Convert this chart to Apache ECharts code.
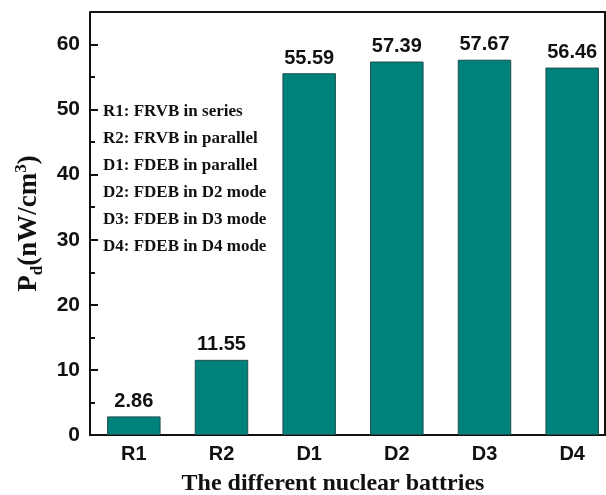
<!DOCTYPE html>
<html>
<head>
<meta charset="utf-8">
<script src="https://cdn.jsdelivr.net/npm/echarts@6/dist/echarts.min.js"></script>
<style>
  html, body { margin: 0; padding: 0; background: #ffffff; }
  #chart { width: 606px; height: 495px; }
</style>
</head>
<body>
<div id="chart"></div>
<script>
// Power density of the different nuclear battery configurations
const categories = ['R1', 'R2', 'D1', 'D2', 'D3', 'D4'];
const powerDensity = [2.86, 11.55, 55.59, 57.39, 57.67, 56.46];
const yTicks = [0, 10, 20, 30, 40, 50, 60];
const notes = [
  'R1: FRVB in series',
  'R2: FRVB in parallel',
  'D1: FDEB in parallel',
  'D2: FDEB in D2 mode',
  'D3: FDEB in D3 mode',
  'D4: FDEB in D4 mode'
];

const chart = echarts.init(document.getElementById('chart'), null, { renderer: 'canvas' });

const serifBold = { fontFamily: 'Liberation Serif', fontWeight: 'bold', color: '#111' };
const sansBold = { fontFamily: 'Liberation Sans', fontWeight: 'bold', color: '#111' };

chart.setOption({
  backgroundColor: '#ffffff',
  animation: false,
  grid: {
    left: 90, top: 12, width: 526, height: 423,
    containLabel: false, outerBoundsMode: 'none', show: false
  },
  graphic: notes.map((t, i) => ({
    type: 'text',
    left: 103,
    top: 103 + i * 27,
    style: { text: t, fontSize: 17, fontFamily: 'Liberation Serif', fontWeight: 'bold', fill: '#111' }
  })).concat([
    // frame lines on top and right of the plot
    { type: 'line', shape: { x1: 90, y1: 12, x2: 606, y2: 12 }, style: { stroke: '#111', lineWidth: 2 } },
    { type: 'line', shape: { x1: 605, y1: 12, x2: 605, y2: 435 }, style: { stroke: '#111', lineWidth: 2 } }
  ]),
  xAxis: {
    type: 'category',
    data: categories,
    axisLine: { lineStyle: { color: '#111', width: 2 } },
    axisTick: { inside: true, alignWithLabel: true, length: 8, lineStyle: { color: '#111', width: 2 } },
    axisLabel: Object.assign({ fontSize: 20, margin: 9 }, sansBold),
    name: 'The different nuclear battries',
    nameLocation: 'middle',
    nameGap: 37,
    nameTextStyle: Object.assign({ fontSize: 24, padding: [0, 40, 0, 0] }, serifBold)
  },
  yAxis: {
    type: 'value',
    min: 0,
    max: 65,
    interval: 10,
    axisLine: { show: true, lineStyle: { color: '#111', width: 2 } },
    axisTick: { show: true, inside: true, length: 8, lineStyle: { color: '#111', width: 2 } },
    minorTick: { show: true, splitNumber: 2, length: 5, lineStyle: { color: '#111', width: 2 } },
    splitLine: { show: false },
    axisLabel: Object.assign({
      fontSize: 21, margin: 10,
      formatter: v => (yTicks.indexOf(v) >= 0 ? String(v) : '')
    }, sansBold),
    name: '{m|P}{s|d}{m|(nW/cm}{u|3}{m|)}',
    nameLocation: 'middle',
    nameGap: 38,
    nameRotate: 90,
    nameTextStyle: {
      rich: {
        m: Object.assign({ fontSize: 27 }, serifBold),
        s: Object.assign({ fontSize: 17, padding: [16, 0, 0, 0] }, serifBold),
        u: Object.assign({ fontSize: 17, padding: [0, 0, 16, 0] }, serifBold)
      }
    }
  },
  series: [{
    type: 'bar',
    data: powerDensity,
    barWidth: '61%',
    itemStyle: { color: '#00827c', borderColor: '#1f4f4c', borderWidth: 1 },
    label: {
      show: true,
      position: 'top',
      distance: 5,
      fontSize: 20,
      fontWeight: 'bold',
      fontFamily: 'Liberation Sans',
      color: '#111',
      formatter: p => p.value.toFixed(2)
    }
  }]
});
</script>
</body>
</html>
